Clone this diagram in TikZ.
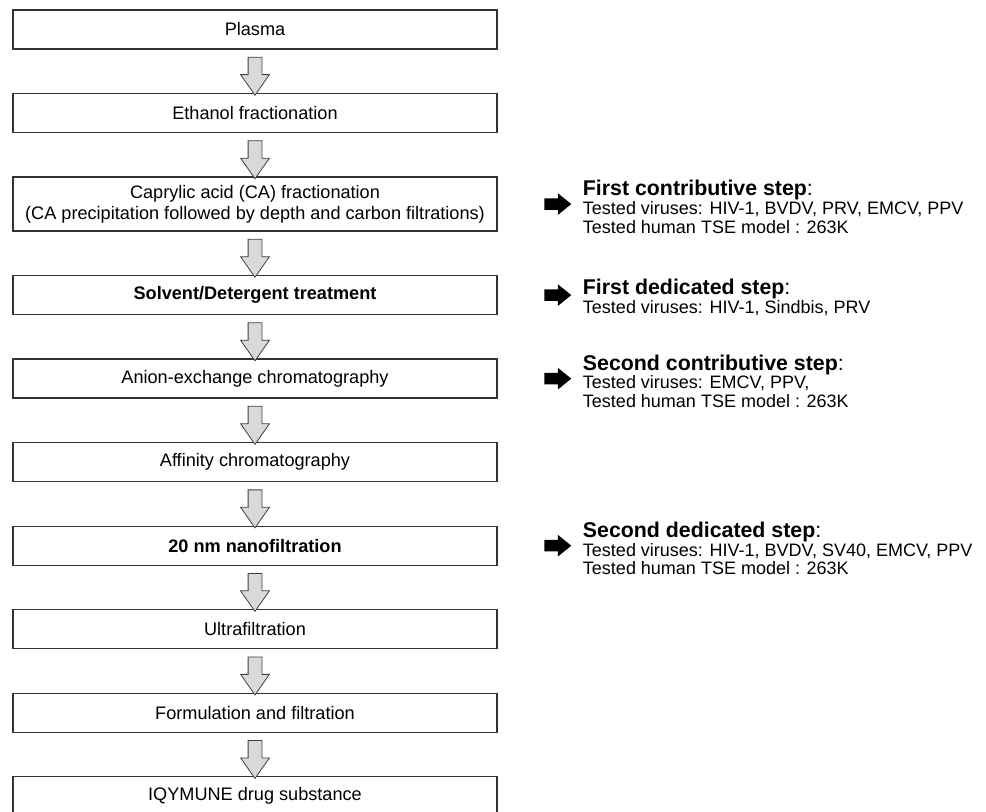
\documentclass[tikz,border=0pt]{standalone}
\usepackage{fontspec}
\setmainfont{Liberation Sans}
\usetikzlibrary{positioning,shapes.arrows,calc}
\begin{document}
\begin{tikzpicture}[node distance=33.4pt,
    stepbox/.style={draw=black!80, line width=1pt, outer sep=0pt, minimum width=363pt, minimum height=29.25pt,
      align=center, font=\fontsize{13.6pt}{15.75pt}\selectfont},
    flowarrow/.style={single arrow, shape border rotate=270, draw=black!75, line width=0.6pt,
      fill=gray!30, inner sep=4.875pt, minimum height=28.5pt, minimum width=21pt,
      single arrow head extend=5.625pt, single arrow tip angle=70},
    sidearrow/.style={single arrow, fill=black, inner sep=4.125pt, minimum height=20.25pt,
      minimum width=15.75pt, single arrow head extend=3.75pt, single arrow tip angle=78},
    sidetext/.style={inner sep=0pt, align=left, yshift=-2pt, font=\fontsize{13.5pt}{14.2pt}\selectfont}
    ]
    \useasboundingbox (0,0) rectangle (739.5pt,-608.25pt);
    \node[stepbox] (plasma) at (191.25pt,-22.125pt) {Plasma};
    \node[stepbox, below=of plasma] (ethanol) {Ethanol fractionation};
    \node[stepbox, below=of ethanol, minimum height=40.5pt] (caprylic)
      {Caprylic acid (CA) fractionation\\(CA precipitation followed by depth and carbon filtrations)};
    \node[stepbox, below=of caprylic, font=\fontsize{13.6pt}{15.75pt}\selectfont\bfseries] (sd)
      {Solvent/Detergent treatment};
    \node[stepbox, below=of sd] (aex) {Anion-exchange chromatography};
    \node[stepbox, below=of aex] (affinity) {Affinity chromatography};
    \node[stepbox, below=of affinity, font=\fontsize{13.6pt}{15.75pt}\selectfont\bfseries] (nano)
      {20 nm nanofiltration};
    \node[stepbox, below=of nano] (uf) {Ultrafiltration};
    \node[stepbox, below=of uf] (form) {Formulation and filtration};
    \node[stepbox, below=of form] (drug) {IQYMUNE drug substance};
    \foreach \a/\b in {plasma/ethanol, ethanol/caprylic, caprylic/sd, sd/aex, aex/affinity,
                       affinity/nano, nano/uf, uf/form, form/drug}
      \node[flowarrow] at ($(\a.south)!0.5!(\b.north)$) {};
    \node[sidearrow, right=35.25pt of caprylic] (arrcaprylic) {};
    \node[sidearrow, right=35.25pt of sd] (arrsd) {};
    \node[sidearrow, right=35.25pt of aex] (arraex) {};
    \node[sidearrow, right=35.25pt of nano] (arrnano) {};
    \node[sidetext, right=8.25pt of arrcaprylic] (infocaprylic)
      {{\fontsize{16pt}{14.2pt}\selectfont\textbf{First contributive step}:}\\
       Tested viruses: HIV-1, BVDV, PRV, EMCV, PPV\\
       Tested human TSE model : 263K};
    \node[sidetext, right=8.25pt of arrsd] (infosd)
      {{\fontsize{16pt}{14.2pt}\selectfont\textbf{First dedicated step}:}\\
       Tested viruses: HIV-1, Sindbis, PRV};
    \node[sidetext, right=8.25pt of arraex] (infoaex)
      {{\fontsize{16pt}{14.2pt}\selectfont\textbf{Second contributive step}:}\\
       Tested viruses: EMCV, PPV,\\
       Tested human TSE model : 263K};
    \node[sidetext, right=8.25pt of arrnano] (infonano)
      {{\fontsize{16pt}{14.2pt}\selectfont\textbf{Second dedicated step}:}\\
       Tested viruses: HIV-1, BVDV, SV40, EMCV, PPV\\
       Tested human TSE model : 263K};
  \end{tikzpicture}
\end{document}
